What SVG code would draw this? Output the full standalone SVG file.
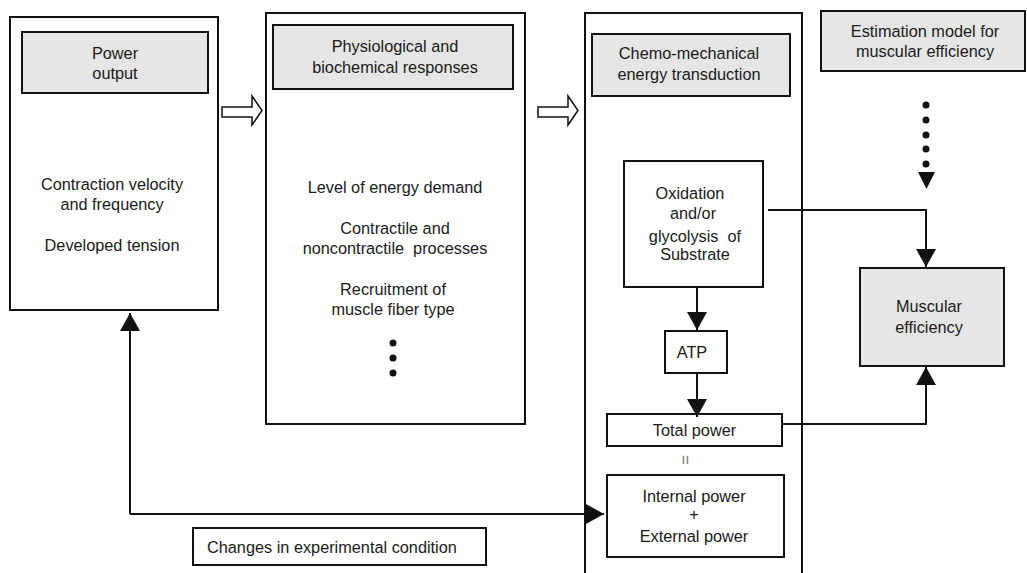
<svg xmlns="http://www.w3.org/2000/svg" width="1027" height="573" viewBox="0 0 1027 573">
<defs>
<style>
.box{fill:#fff;stroke:#111;stroke-width:2}
.gray{fill:#e6e6e6;stroke:#111;stroke-width:2}
text{font-family:"Liberation Sans",Arial,sans-serif;font-size:16.3px;fill:#1a1a1a;text-anchor:middle}
.ln{fill:none;stroke:#111;stroke-width:2}
.open{fill:#fff;stroke:#111;stroke-width:1.5;stroke-linejoin:miter}
.head{fill:#111}
.dot{fill:#111}
</style>
<marker id="ah" markerUnits="userSpaceOnUse" markerWidth="20" markerHeight="20" viewBox="0 0 18 20" refX="18" refY="10" orient="auto">
<path d="M0,0 L18,10 L0,20 Z" fill="#111"/>
</marker>
</defs>
<rect width="1027" height="573" fill="#fff"/>

<g id="power-output">
<rect class="box" x="10" y="17" width="208" height="293"/>
<rect class="gray" x="22" y="32" width="186" height="61"/>
<text x="115" y="59">Power</text>
<text x="115" y="79">output</text>
<text x="112" y="190">Contraction velocity</text>
<text x="112" y="210">and frequency</text>
<text x="112" y="251">Developed tension</text>
</g>

<g id="physiological">
<rect class="box" x="266" y="13" width="259" height="411"/>
<rect class="gray" x="273" y="25" width="240" height="64"/>
<text x="395" y="52">Physiological and</text>
<text x="395" y="73">biochemical responses</text>
<text x="395" y="193">Level of energy demand</text>
<text x="395" y="234">Contractile and</text>
<text x="395" y="254" xml:space="preserve">noncontractile  processes</text>
<text x="393" y="295">Recruitment of</text>
<text x="393" y="315">muscle fiber type</text>
<circle class="dot" cx="393" cy="343" r="3.5"/>
<circle class="dot" cx="393" cy="358" r="3.5"/>
<circle class="dot" cx="393" cy="373" r="3.5"/>
</g>

<g id="chemo-mechanical">
<rect class="box" x="585" y="13" width="217" height="580"/>
<rect class="gray" x="592" y="34" width="198" height="62"/>
<text x="689" y="59">Chemo-mechanical</text>
<text x="689" y="80">energy transduction</text>
</g>

<g id="oxidation">
<rect class="box" x="624" y="161" width="139" height="126"/>
<text x="690" y="199">Oxidation</text>
<text x="693" y="219">and/or</text>
<text x="695" y="242" xml:space="preserve">glycolysis  of</text>
<text x="695" y="260">Substrate</text>
</g>

<g id="atp">
<rect class="box" x="665" y="331" width="62" height="42"/>
<text x="692" y="358">ATP</text>
</g>

<g id="total-power">
<rect class="box" x="607" y="414" width="175" height="32"/>
<text x="694.5" y="436">Total power</text>
</g>

<g id="equals">
<text x="0" y="0" transform="translate(685,460) rotate(90)" style="fill:#777;font-size:17px" dy="5.5">=</text>
</g>

<g id="internal-external">
<rect class="box" x="607" y="475" width="177" height="82"/>
<text x="694" y="502">Internal power</text>
<text x="694" y="520">+</text>
<text x="694" y="542">External power</text>
</g>

<g id="estimation-model">
<rect class="gray" x="821" y="11" width="204" height="60"/>
<text x="925" y="37">Estimation model for</text>
<text x="925" y="57">muscular efficiency</text>
</g>

<g id="muscular-efficiency">
<rect class="gray" x="860" y="268" width="144" height="98"/>
<text x="929" y="312">Muscular</text>
<text x="929" y="333">efficiency</text>
</g>

<g id="changes">
<rect class="box" x="193" y="528" width="293" height="37"/>
<text x="207" y="553" style="text-anchor:start">Changes in experimental condition</text>
</g>

<g id="connectors">
<polygon class="open" points="222,107 252,107 252,96 262,110.5 252,125 252,117 222,117"/>
<polygon class="open" points="538,107 568,107 568,96 578,110.5 568,125 568,117 538,117"/>
<circle class="dot" cx="926" cy="105" r="3.5"/>
<circle class="dot" cx="926" cy="120" r="3.5"/>
<circle class="dot" cx="926" cy="135" r="3.5"/>
<circle class="dot" cx="926" cy="149" r="3.5"/>
<circle class="dot" cx="926" cy="164" r="3.5"/>
<polygon class="head" points="918,172 935,172 926.5,189"/>
<path class="ln" d="M768,210 H926 V267" marker-end="url(#ah)"/>
<path class="ln" d="M697,287 V330" marker-end="url(#ah)"/>
<path class="ln" d="M697,373 V417" marker-end="url(#ah)"/>
<path class="ln" d="M781,424 H926 V367" marker-end="url(#ah)"/>
<path class="ln" d="M130,514 V313" marker-end="url(#ah)"/>
<path class="ln" d="M130,514 H604" marker-end="url(#ah)"/>
</g>
</svg>
